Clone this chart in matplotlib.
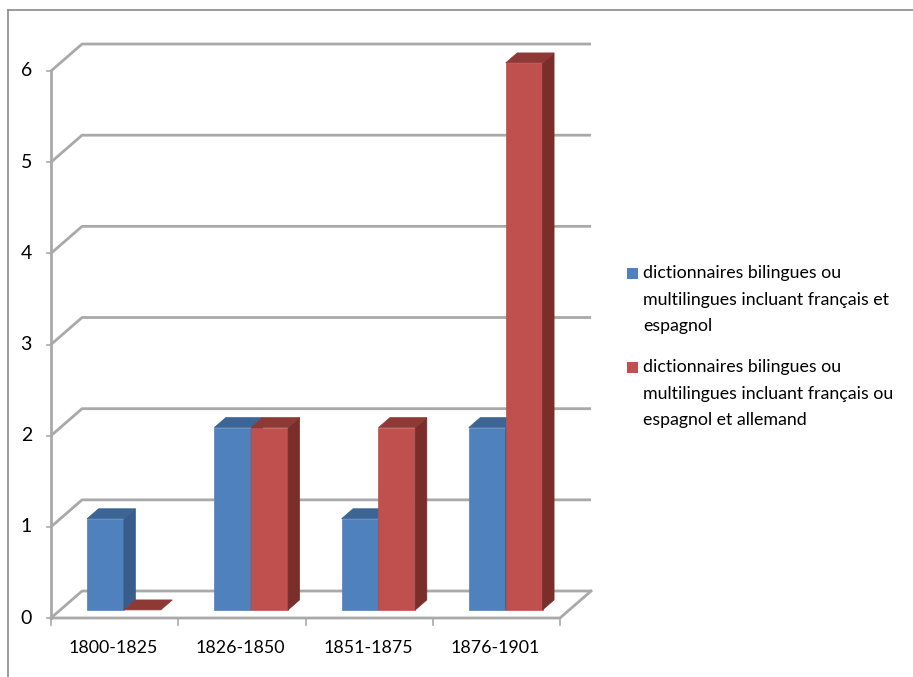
import matplotlib
matplotlib.use("Agg")
import matplotlib.pyplot as plt
from matplotlib.patches import Polygon, Rectangle
from matplotlib.lines import Line2D

# ---- data -------------------------------------------------------------
categories = ["1800-1825", "1826-1850", "1851-1875", "1876-1901"]
fr_es = [1, 2, 1, 2]            # bilingual / multilingual incl. French and Spanish
fr_es_de = [0, 2, 2, 6]         # incl. French or Spanish and German
y_ticks = [0, 1, 2, 3, 4, 5, 6]
legend_lines = [
    ["dictionnaires bilingues ou", "multilingues incluant français et", "espagnol"],
    ["dictionnaires bilingues ou", "multilingues incluant français ou", "espagnol et allemand"],
]

# ---- style ------------------------------------------------------------
FONT = ["Lato", "DejaVu Sans"]
FS = 12.8
GRID = "#A9A9A9"
FACES = [
    {"front": "#4F81BD", "top": "#3C6494", "side": "#385D8A"},
    {"front": "#C0504D", "top": "#8E3936", "side": "#7A2E2C"},
]

W, H = 913, 677
fig = plt.figure(figsize=(W / 100, H / 100), dpi=100)
fig.patch.set_facecolor("white")

# outer chart frame
fig.add_artist(Line2D([8 / W, 1.0], [1 - 10 / H, 1 - 10 / H], color="#8A8A8A", lw=1.2))
fig.add_artist(Line2D([8 / W, 8 / W], [1 - 10 / H, 0.0], color="#8A8A8A", lw=1.2))

# plot area: x in category units (0..4), y in values (0..6)
ax = fig.add_axes([51 / W, (H - 618) / H, (560 - 51) / W, (618 - 71) / H])
ax.set_xlim(0, len(categories))
ax.set_ylim(0, max(y_ticks))
ax.axis("off")

DX, DY = 0.244, 0.296          # depth offset of the back wall
n = len(categories)

# walls / gridlines
for k in y_ticks:
    ax.plot([0, DX, n + DX], [k, k + DY, k + DY], color=GRID, lw=2.0,
            clip_on=False, solid_capstyle="butt", zorder=1)
    ax.plot([-0.031, 0], [k, k], color=GRID, lw=1.2, clip_on=False, zorder=1)
    ax.text(-0.15, k, str(k), ha="right", va="center", fontsize=14,
            family=FONT, color="#000000")
ax.plot([0, n, n + DX], [0, 0, DY], color=GRID, lw=2.0, clip_on=False, zorder=1)
ax.plot([0, 0], [0, max(y_ticks)], color=GRID, lw=2.0, clip_on=False, zorder=1)
for i in range(n + 1):
    ax.plot([i, i], [0, -0.077], color=GRID, lw=1.2, clip_on=False, zorder=1)
for i, c in enumerate(categories):
    ax.text(i + 0.49, -0.33, c, ha="center", va="center", fontsize=FS,
            family=FONT, color="#000000")

# 3D bars
BW = 0.29
Z0, Z1 = 0.30, 0.67


def bar3d(x0, h, faces):
    fx0, fx1 = x0 + Z0 * DX, x0 + BW + Z0 * DX
    bx0, bx1 = x0 + Z1 * DX, x0 + BW + Z1 * DX
    fy, by = Z0 * DY, Z1 * DY
    front = [(fx0, fy), (fx1, fy), (fx1, h + fy), (fx0, h + fy)]
    top = [(fx0, h + fy), (fx1, h + fy), (bx1, h + by), (bx0, h + by)]
    side = [(fx1, fy), (bx1, by), (bx1, h + by), (fx1, h + fy)]
    for pts, key in ((front, "front"), (side, "side"), (top, "top")):
        if key != "top" and h == 0:
            continue
        ax.add_patch(Polygon(pts, closed=True, facecolor=faces[key],
                             edgecolor=faces[key], lw=0.5, clip_on=False, zorder=3))


for i in range(n):
    for s, vals in enumerate((fr_es, fr_es_de)):
        x0 = i + 0.5 - BW + s * BW
        bar3d(x0, vals[i], FACES[s])

# legend
entry_tops = [273, 367]
for s, lines in enumerate(legend_lines):
    y0 = entry_tops[s]
    fig.add_artist(Rectangle((627 / W, 1 - (y0 + 5.5) / H), 11 / W, 11 / H,
                             transform=fig.transFigure,
                             facecolor=FACES[s]["front"], edgecolor="none"))
    for j, line in enumerate(lines):
        fig.text(643 / W, 1 - (y0 + j * 26.5) / H, line, ha="left", va="center",
                 fontsize=FS, family=FONT, color="#000000")

fig.savefig("out.png", dpi=100, facecolor="white")
